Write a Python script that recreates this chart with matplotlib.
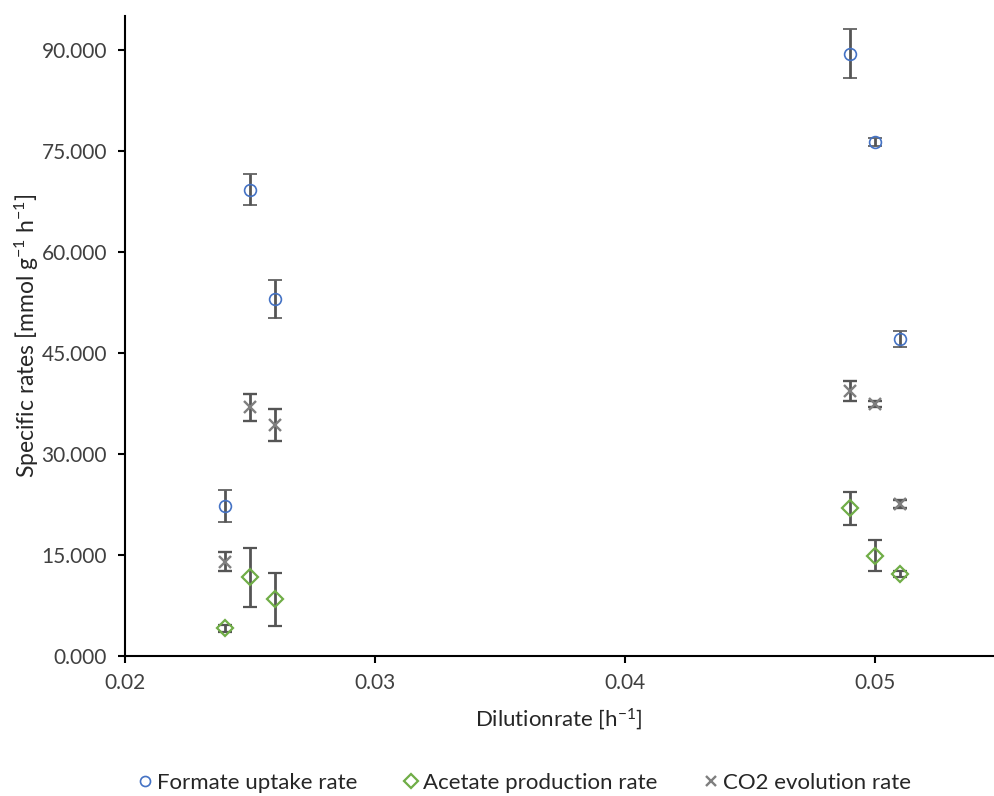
import numpy as np
import matplotlib.pyplot as plt
from matplotlib.ticker import FormatStrFormatter

plt.rcParams['font.family'] = ['Lato', 'DejaVu Sans']
plt.rcParams['mathtext.default'] = 'regular'

# 数据
dilution = [0.024, 0.025, 0.026, 0.049, 0.050, 0.051]
formate = [22.3, 69.2, 53.0, 89.4, 76.3, 47.1]
formate_err = [2.4, 2.3, 2.8, 3.6, 0.6, 1.2]
acetate = [4.1, 11.7, 8.4, 21.9, 14.9, 12.2]
acetate_err = [0.5, 4.4, 3.9, 2.5, 2.3, 0.4]
co2 = [14.0, 36.9, 34.3, 39.3, 37.4, 22.6]
co2_err = [1.4, 2.0, 2.4, 1.5, 0.5, 0.6]

fig = plt.figure(figsize=(9.95, 7.96), dpi=100)
ax = fig.add_axes([125 / 995, 1 - 656 / 796, 868 / 995, 640 / 796])

err_kw = dict(ecolor='#555555', elinewidth=2, capsize=5, capthick=2, linestyle='none')
ax.errorbar(dilution, formate, yerr=formate_err, marker='o', markersize=8.5, mfc='none',
            mec='#4472C4', mew=1.2, label='Formate uptake rate', **err_kw)
ax.errorbar(dilution, acetate, yerr=acetate_err, marker='D', markersize=8.5, mfc='none',
            mec='#70AD47', mew=1.6, label='Acetate production rate', **err_kw)
ax.errorbar(dilution, co2, yerr=co2_err, marker='x', markersize=8.5,
            mec='#7F7F7F', mew=1.7, label='CO2 evolution rate', **err_kw)

ax.set_xlim(0.02, 0.0547)
ax.set_ylim(0, 95)
ax.set_xticks([0.02, 0.03, 0.04, 0.05])
ax.set_xticklabels(['0.02', '0.03', '0.04', '0.05'])
ax.set_yticks(np.arange(0, 91, 15))
ax.yaxis.set_major_formatter(FormatStrFormatter('%.3f'))
ax.tick_params(labelsize=15, labelcolor='#404040', color='black', length=5, width=1.5,
               direction='out')
ax.tick_params(axis='x', pad=7)
ax.tick_params(axis='y', pad=8)
for s in ['top', 'right']:
    ax.spines[s].set_visible(False)
for s in ['left', 'bottom']:
    ax.spines[s].set_linewidth(1.5)

ax.set_xlabel('Dilutionrate [h$^{-1}$]', fontsize=16, color='#262626', labelpad=10)
ax.set_ylabel('Specific rates [mmol g$^{-1}$ h$^{-1}$]', fontsize=16.5, color='#262626', labelpad=0)

handles, labels = ax.get_legend_handles_labels()
handles = [h[0] for h in handles]
fig.legend(handles, labels, loc='center', bbox_to_anchor=(0.525, 1 - 783 / 796), ncol=3,
           frameon=False, fontsize=16, handletextpad=0.05, columnspacing=1.9,
           handlelength=1.0, markerscale=0.85, labelcolor='#262626')

fig.savefig('out.png', dpi=100)
